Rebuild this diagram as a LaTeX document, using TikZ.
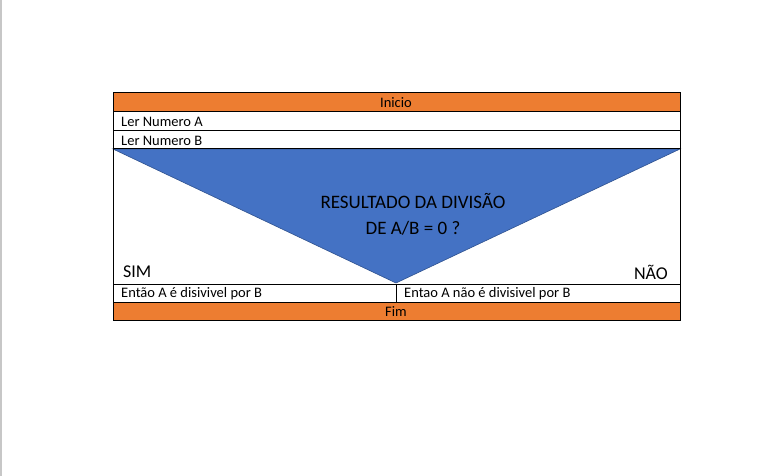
\documentclass[tikz,border=0pt]{standalone}
\usepackage{fontspec}
\setmainfont{Carlito}
\definecolor{laranja}{HTML}{ED7D31}
\definecolor{azul}{HTML}{4472C4}
\definecolor{azulborda}{HTML}{2F528F}
\tikzset{
	caixa/.style = {draw=black, line width=1pt},
	texto/.style = {inner sep=0pt, font=\fontsize{14.5}{16}\selectfont},
}
\begin{document}
\begin{tikzpicture}[x=1pt, y=-1pt]
	\useasboundingbox (0,0) rectangle (782,476);
	\fill[white] (0,0) rectangle (782,476);
	\draw[color=black!22, line width=1.2pt] (1,0) -- (1,476);

	% faixas de inicio e fim
	\fill[laranja] (113,93) rectangle (680,112);
	\fill[laranja] (113,302) rectangle (680,320);

	% triangulo da decisao
	\filldraw[fill=azul, draw=azulborda, line width=0.6pt] (113,149) -- (680,149) -- (396,283) -- cycle;

	\draw[caixa] (113,93) rectangle (680,320);
	\foreach \y in {112,131,149,284,302}
		\draw[caixa] (113,\y) -- (680,\y);
	\draw[caixa] (396,284) -- (396,302);

	\node[texto] (inicio) at (396,103) {Inicio};
	\node[texto, anchor=west] (lerA) at (121,122) {Ler Numero A};
	\node[texto, anchor=west] (lerB) at (121,141) {Ler Numero B};
	\node[texto, align=center, font=\fontsize{19}{26}\selectfont] (decisao) at (413,214) {RESULTADO DA DIVISÃO\\DE A/B = 0 ?};
	\node[texto, anchor=west, font=\fontsize{18}{20}\selectfont] (sim) at (123,272) {SIM};
	\node[texto, anchor=east, font=\fontsize{18}{20}\selectfont] (nao) at (668,272) {NÃO};
	\node[texto, anchor=west] (ramosim) at (121,294) {Então A é disivivel por B};
	\node[texto, anchor=west] (ramonao) at (404,294) {Entao A não é divisivel por B};
	\node[texto] (fim) at (396,312) {Fim};
\end{tikzpicture}
\end{document}
